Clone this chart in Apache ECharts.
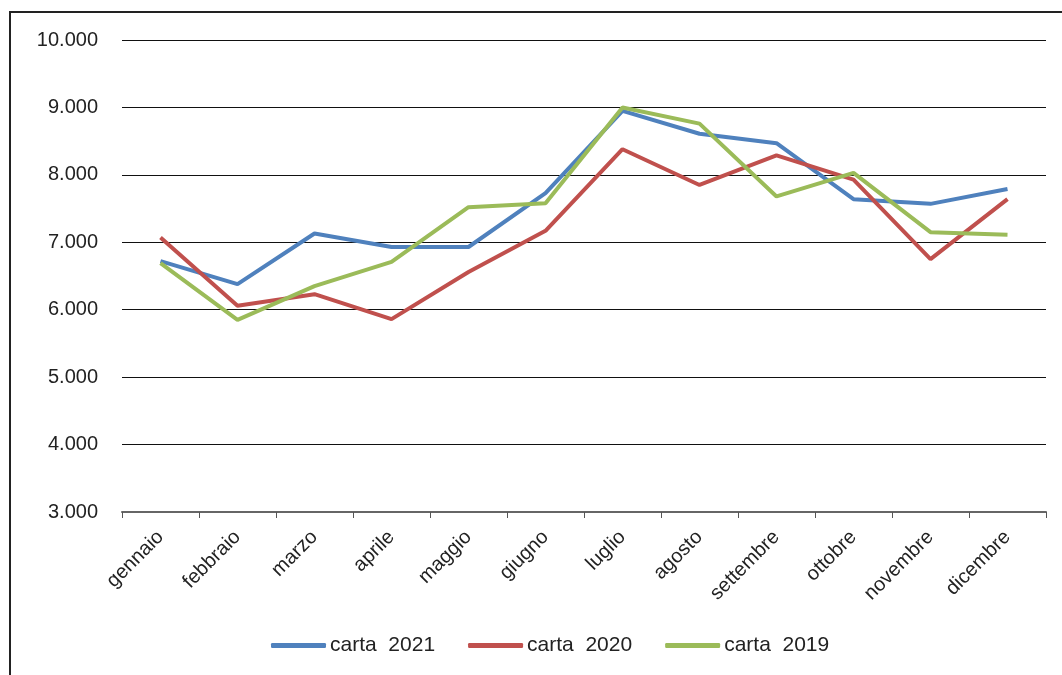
<!DOCTYPE html>
<html>
<head>
<meta charset="utf-8">
<script src="https://cdn.jsdelivr.net/npm/echarts@6/dist/echarts.min.js"></script>
<style>
    html, body { margin: 0; padding: 0; background: #fff; }
    #chart { width: 1062px; height: 675px; }
</style>
</head>
<body>
<div id="chart"></div>
<script>
// mesi
var mesi = ['gennaio', 'febbraio', 'marzo', 'aprile', 'maggio', 'giugno',
            'luglio', 'agosto', 'settembre', 'ottobre', 'novembre', 'dicembre'];

var nomiSerie = ['carta  2021', 'carta  2020', 'carta  2019'];

// valori
var carta2021 = [6720, 6380, 7130, 6930, 6930, 7730, 8950, 8610, 8470, 7640, 7570, 7790];
var carta2020 = [7070, 6060, 6230, 5860, 6560, 7170, 8380, 7850, 8290, 7930, 6750, 7640];
var carta2019 = [6690, 5850, 6350, 6710, 7520, 7580, 9000, 8760, 7680, 8030, 7150, 7110];

var colori = ['#4F81BD', '#C0504D', '#9BBB59'];

var yMin = 3000, yMax = 10000, yStep = 1000;

function formatMigliaia (v) {
    // separatore migliaia all'italiana
    return String(v).replace(/\B(?=(\d{3})+(?!\d))/g, '.');
}

var chart = echarts.init(document.getElementById('chart'));

function lineSerie (nome, dati, colore) {
    return {
        name: nome,
        type: 'line',
        data: dati,
        symbol: 'none',
        smooth: false,
        lineStyle: { width: 4, color: colore },
        itemStyle: { color: colore }
    };
}

var option = {
    animation: false,
    textStyle: { fontFamily: 'Liberation Sans, Arial, sans-serif' },
    graphic: [{
        type: 'rect',
        shape: { x: 10, y: 12, width: 1200, height: 800 },
        style: { fill: 'none', stroke: '#222', lineWidth: 2 },
        silent: true
    }],
    grid: { left: 122, right: 16, top: 40, bottom: 163 },
    legend: {
        bottom: 14,
        left: 266,
        itemWidth: 55,
        itemHeight: 5,
        itemGap: 33,
        icon: 'roundRect',
        textStyle: { fontSize: 21, color: '#222', padding: [0, 0, 0, -1] },
        data: nomiSerie
    },
    xAxis: {
        type: 'category',
        data: mesi,
        boundaryGap: true,
        axisLine: { lineStyle: { color: '#666', width: 2 } },
        axisTick: { show: true, length: 6, lineStyle: { color: '#555', width: 1 } },
        axisLabel: {
            rotate: 45,
            fontSize: 20,
            color: '#222',
            margin: 22,
            interval: 0
        },
        splitLine: { show: false }
    },
    yAxis: {
        type: 'value',
        min: yMin,
        max: yMax,
        interval: yStep,
        axisLine: { show: false },
        axisTick: { show: false },
        axisLabel: {
            fontSize: 20,
            color: '#222',
            margin: 24,
            formatter: formatMigliaia
        },
        splitLine: { lineStyle: { color: '#111', width: 1 } }
    },
    series: [
        lineSerie(nomiSerie[0], carta2021, colori[0]),
        lineSerie(nomiSerie[1], carta2020, colori[1]),
        lineSerie(nomiSerie[2], carta2019, colori[2])
    ]
};

chart.setOption(option);
</script>
</body>
</html>
